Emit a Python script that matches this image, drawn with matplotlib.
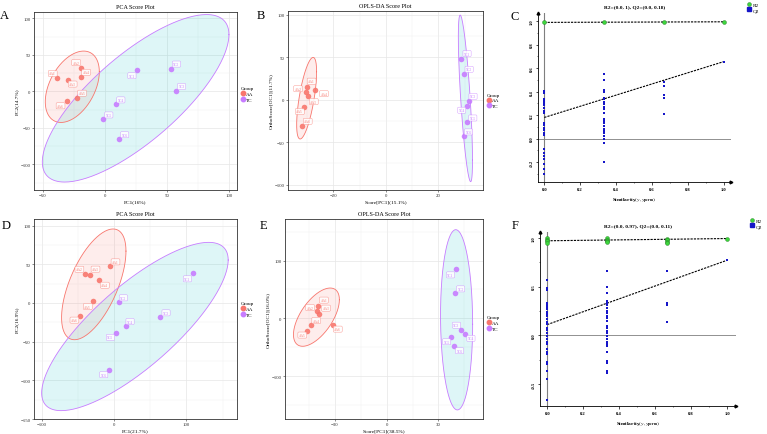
import numpy as np
import matplotlib.pyplot as plt
from matplotlib.ticker import MultipleLocator, FormatStrFormatter
from matplotlib.lines import Line2D

plt.rcParams['font.family'] = ['Liberation Serif', 'DejaVu Serif']
plt.rcParams['mathtext.fontset'] = 'stix'

W, H = 767, 435
AA_COL = '#F8766D'
TC_COL = '#C77CFF'
AA_FILL = '#F8766D'
TC_FILL = '#00BFC4'

# ---------------- data ----------------
# A: PCA (first comparison)
a_aa_x = [-38.6, -19.7, -29.7, -19.7, -23.0, -30.5]
a_aa_y = [18.3, 31.7, 16.0, 20.0, -8.7, -13.8]
a_tc_x = [26.2, 53.2, 57.3, 9.2, -1.4, 11.4]
a_tc_y = [28.9, 31.2, 0.5, -17.9, -38.5, -65.6]
# confidence ellipses: centre x, centre y, half width, half height, correlation
a_ell_aa = (-26.4, 6.2, 21.8, 48.9, 0.42)
a_ell_tc = (24.7, -9.6, 75.3, 114.7, 0.76)

# B: OPLS-DA (first comparison)
b_aa_x = [-30.0, -30.5, -29.6, -27.0, -31.1, -31.9]
b_aa_y = [15.3, 9.0, 4.3, 11.0, -8.6, -30.6]
b_tc_x = [28.8, 29.6, 31.5, 31.0, 31.0, 29.8]
b_tc_y = [47.8, 30.6, -1.2, -7.1, -26.7, -43.1]
b_ell_aa = (-30.2, 1.8, 3.8, 48.0, 0.65)
b_ell_tc = (30.3, 1.6, 2.7, 98.0, -0.74)

# D: PCA (second comparison)
d_aa_x = [-6.0, -40.6, -33.7, -20.8, -29.0, -47.5]
d_aa_y = [47.4, 37.9, 36.6, 30.2, 2.6, -16.4]
d_tc_x = [109.0, 6.5, 64.0, 15.7, 2.3, -6.9]
d_tc_y = [38.4, 0.9, -18.5, -29.7, -38.8, -87.0]
d_ell_aa = (-28.4, 24.1, 44.6, 71.6, 0.60)
d_ell_tc = (28.6, -30.4, 129.2, 108.8, 0.79)

# E: OPLS-DA (second comparison)
e_aa_x = [-39.6, -40.5, -39.0, -44.0, -46.3, -30.9]
e_aa_y = [21.9, 12.7, 8.0, -11.5, -21.3, -11.0]
e_tc_x = [40.2, 39.6, 43.0, 45.6, 37.3, 39.0]
e_tc_y = [84.7, 43.2, -19.6, -27.0, -32.9, -48.4]
e_ell_aa = (-40.7, 2.0, 13.3, 50.4, 0.60)
e_ell_tc = (40.5, -2.6, 9.3, 155.9, -0.05)

aa_names = ['AA1', 'AA2', 'AA3', 'AA4', 'AA5', 'AA6']
tc_names = ['TC1', 'TC2', 'TC3', 'TC4', 'TC5', 'TC6']

# C: permutation test (first comparison)
c_title = 'R2=(0.0, 1), Q2=(0.0, 0.18)'
c_sim = [0.0, 1 / 3, 2 / 3, 1.0]
c_r2 = [[0.99], [0.99], [0.99], [0.995]]
c_q2 = [
    [0.406, 0.386, 0.335, 0.321, 0.307, 0.284, 0.264, 0.236, 0.216, 0.136, 0.114,
     0.094, 0.074, 0.051, 0.028, -0.091, -0.119, -0.148, -0.176, -0.219, -0.261, -0.304],
    [0.548, 0.5, 0.415, 0.398, 0.349, 0.335, 0.313, 0.293, 0.273, 0.25, 0.216,
     0.165, 0.151, 0.131, 0.108, 0.085, 0.065, 0.045, 0.023, -0.006, -0.034, -0.199],
    [0.486, 0.449, 0.372, 0.349, 0.207],
    [0.656],
]
c_r2_line = [0.99, 0.995]
c_q2_line = [0.18, 0.656]

# F: permutation test (second comparison)
f_title = 'R2=(0.0, 0.97), Q2=(0.0, 0.11)'
f_sim = [0.0, 1 / 3, 2 / 3, 1.0]
f_r2 = [[1.0, 0.983, 0.966, 0.952], [1.0, 0.983, 0.97, 0.96],
        [0.993, 0.976, 0.96, 0.945], [0.993]]
f_q2 = [
    [0.564, 0.485, 0.467, 0.333, 0.313, 0.289, 0.265, 0.244, 0.22, 0.196, 0.168, 0.141,
     0.117, 0.072, 0.058, 0.024, -0.003, -0.038, -0.065, -0.089, -0.141, -0.168, -0.192,
     -0.271, -0.296, -0.364, -0.443, -0.663],
    [0.66, 0.491, 0.436, 0.357, 0.333, 0.306, 0.278, 0.254, 0.23, 0.203, 0.175, 0.151,
     0.1, 0.072, 0.045, 0.021, -0.01, -0.038, -0.065, -0.089, -0.107, -0.175, -0.261,
     -0.285, -0.364, -0.388],
    [0.66, 0.333, 0.306, 0.141],
    [0.77],
]
f_r2_line = [0.97, 0.993]
f_q2_line = [0.11, 0.77]

# label offsets (px) for the boxed sample names
a_off_aa = [(-4, 4), (-4, 5), (4, -4), (5, 4), (5, 4), (-6, -4)]
a_off_tc = [(-5, -5), (5, 4), (5, 4), (4, 4), (5, 4), (5, 4)]
b_off_aa = [(4, 5), (-7, 3), (5, -5), (8, -3), (-4, -4), (5, 4)]
b_off_tc = [(5, 5), (5, 4), (4, 4), (-5, -4), (5, 4), (4, 4)]
d_off_aa = [(5, 4), (-5, 4), (5, 5), (5, -5), (-5, -5), (-5, -4)]
d_off_tc = [(-5, -5), (4, 4), (5, 4), (4, 4), (-5, -4), (-5, -4)]
e_off_aa = [(5, 5), (-6, 3), (6, 5), (5, 4), (-4, -4), (4, -4)]
e_off_tc = [(-5, -5), (5, 4), (-4, 4), (5, -4), (-4, -4), (5, -4)]


def rect(l, t, r, b):
    return [l / W, 1 - b / H, (r - l) / W, (b - t) / H]


def ellipse(ax, p, fill, edge):
    mx, my, hx, hy, rho = p
    t = np.linspace(0, 2 * np.pi, 300)
    x = mx + hx * np.cos(t)
    y = my + hy * (rho * np.cos(t) + np.sqrt(1 - rho ** 2) * np.sin(t))
    ax.fill(x, y, color=fill, alpha=0.13, lw=0, zorder=2)
    ax.plot(x, y, color=edge, lw=0.6, zorder=3)


def score_panel(r, title, xlab, ylab, xlim, ylim, xstep, ystep,
                aa, tc, ell_aa, ell_tc, off_aa, off_tc, leg_y):
    ax = fig.add_axes(rect(*r))
    ax.set_xlim(xlim)
    ax.set_ylim(ylim)
    ax.xaxis.set_major_locator(MultipleLocator(xstep))
    ax.xaxis.set_minor_locator(MultipleLocator(xstep / 2))
    ax.yaxis.set_major_locator(MultipleLocator(ystep))
    ax.yaxis.set_minor_locator(MultipleLocator(ystep / 2))
    ax.grid(which='major', color='#E6E6E6', lw=0.5)
    ax.grid(which='minor', color='#F0F0F0', lw=0.3)
    ax.set_axisbelow(True)
    for s in ax.spines.values():
        s.set_color('#333333')
        s.set_linewidth(0.6)
    ax.tick_params(which='major', length=1.5, width=0.4, labelsize=3.5,
                   colors='#333333', pad=1)
    ax.tick_params(which='minor', length=0)
    ellipse(ax, ell_aa, AA_FILL, AA_COL)
    ellipse(ax, ell_tc, TC_FILL, TC_COL)
    ax.scatter(aa[0], aa[1], s=16, color=AA_COL, alpha=0.9, lw=0, zorder=4)
    ax.scatter(tc[0], tc[1], s=16, color=TC_COL, alpha=0.9, lw=0, zorder=4)
    for pts, names, offs, col in [(aa, aa_names, off_aa, AA_COL),
                                  (tc, tc_names, off_tc, TC_COL)]:
        for x, y, n, (dx, dy) in zip(pts[0], pts[1], names, offs):
            ax.annotate(n, (x, y), xytext=(dx * 0.8, dy * 0.8),
                        textcoords='offset points', fontsize=2.5, color=col,
                        ha='center', va='center', zorder=5,
                        bbox=dict(boxstyle='round,pad=0.3', fc='white',
                                  ec=col, lw=0.3, alpha=0.85))
    ax.set_title(title, fontsize=4.4, pad=3)
    ax.set_xlabel(xlab, fontsize=3.9, labelpad=1)
    ax.set_ylabel(ylab, fontsize=3.9, labelpad=1)
    hs = [Line2D([], [], ls='', marker='o', ms=3.2, color=AA_COL),
          Line2D([], [], ls='', marker='o', ms=3.2, color=TC_COL)]
    ax.legend(hs, ['AA', 'TC'], title='Group', loc='center left',
              bbox_to_anchor=(1.0, leg_y), frameon=False, fontsize=3.7,
              title_fontsize=3.7, handletextpad=0.1, handlelength=1.0,
              labelspacing=0.2, borderpad=0.2)
    return ax


def perm_panel(r, title, xlim, ylim, ystep, sim, r2, q2, r2_line, q2_line, leg_xy):
    ax = fig.add_axes(rect(*r))
    ax.set_xlim(xlim)
    ax.set_ylim(ylim)
    ax.spines['top'].set_visible(False)
    ax.spines['right'].set_visible(False)
    for s in ['left', 'bottom']:
        ax.spines[s].set_linewidth(0.6)
    ax.xaxis.set_major_locator(MultipleLocator(0.2))
    ax.xaxis.set_minor_locator(MultipleLocator(0.1))
    ax.yaxis.set_major_locator(MultipleLocator(ystep))
    ax.yaxis.set_minor_locator(MultipleLocator(ystep / 2))
    ax.xaxis.set_major_formatter(FormatStrFormatter('%.1f'))
    ax.yaxis.set_major_formatter(FormatStrFormatter('%.1f'))
    ax.tick_params(which='major', length=1.8, width=0.5, labelsize=3.3, pad=1.5)
    ax.tick_params(which='minor', length=1.0, width=0.4)
    ax.tick_params(axis='y', labelrotation=90)
    for lab in ax.get_yticklabels():
        lab.set_va('center')
    for lab in ax.get_xticklabels() + ax.get_yticklabels():
        lab.set_fontweight('bold')
    ax.axhline(0, color='#7F7F7F', lw=0.6, zorder=1)
    ax.axvline(0, color='#7F7F7F', lw=0.8, zorder=1)
    ax.plot([0, 1], r2_line, color='black', lw=0.8, dashes=(2, 1), zorder=2)
    ax.plot([0, 1], q2_line, color='black', lw=0.8, dashes=(2, 1), zorder=2)
    for x, vals in zip(sim, q2):
        ax.scatter([x] * len(vals), vals, s=4.5, marker='s', color='#1515C8',
                   lw=0, zorder=3)
    for x, vals in zip(sim, r2):
        ax.scatter([x] * len(vals), vals, s=8, marker='o', color='#3DD63D',
                   edgecolor='#1F7A1F', lw=0.3, zorder=4)
    ax.plot(1, 0, '>', color='black', ms=2, transform=ax.transAxes, clip_on=False)
    ax.plot(0, 1, '^', color='black', ms=2, transform=ax.transAxes, clip_on=False)
    ax.set_title(title, fontsize=3.9, fontweight='bold', pad=4)
    ax.set_xlabel(r'Similarity$(y, y_{\mathbf{perm}})$', fontsize=3.9,
                  fontweight='bold', labelpad=3)
    hs = [Line2D([], [], ls='', marker='o', ms=2.8, color='#3DD63D',
                 markeredgecolor='#1F7A1F', markeredgewidth=0.3),
          Line2D([], [], ls='', marker='s', ms=2.2, color='#1515C8')]
    fig.legend(hs, ['R2', 'Q2'], loc='upper left',
               bbox_to_anchor=(leg_xy[0] / W, 1 - leg_xy[1] / H), frameon=False,
               fontsize=3.8, handletextpad=0.3, handlelength=0.8,
               labelspacing=0.1, borderpad=0.1)
    return ax


fig = plt.figure(figsize=(W / 100, H / 100), dpi=100)

score_panel((34, 13, 237, 191), 'PCA Score Plot', 'PC1(16%)', 'PC2(14.7%)',
            (-57.3, 106.5), (-135.2, 108.6), 50, 50,
            (a_aa_x, a_aa_y), (a_tc_x, a_tc_y), a_ell_aa, a_ell_tc,
            a_off_aa, a_off_tc, 0.54)
score_panel((288, 12, 483, 191), 'OPLS-DA Score Plot', 'Score[PC1](15.1%)',
            'OrthoScore[OC1](11.7%)', (-37.3, 37.0), (-106.2, 104.4), 20, 50,
            (b_aa_x, b_aa_y), (b_tc_x, b_tc_y), b_ell_aa, b_ell_tc,
            b_off_aa, b_off_tc, 0.5)
score_panel((34, 220, 237, 420), 'PCA Score Plot', 'PC1(21.7%)', 'PC2(16.9%)',
            (-111.2, 170.0), (-150.0, 108.6), 100, 50,
            (d_aa_x, d_aa_y), (d_tc_x, d_tc_y), d_ell_aa, d_ell_tc,
            d_off_aa, d_off_tc, 0.55)
score_panel((285, 220, 483, 420), 'OPLS-DA Score Plot', 'Score[PC1](38.5%)',
            'OrthoScore[OC1](16.0%)', (-58.9, 55.8), (-174.2, 171.8), 30, 100,
            (e_aa_x, e_aa_y), (e_tc_x, e_tc_y), e_ell_aa, e_ell_tc,
            e_off_aa, e_off_tc, 0.48)

perm_panel((538, 14, 731, 183), c_title, (-0.035, 1.04), (-0.37, 1.07), 0.2,
           c_sim, c_r2, c_q2, c_r2_line, c_q2_line, (744, 0))
perm_panel((540, 233, 736, 407), f_title, (-0.04, 1.05), (-0.725, 1.06), 0.5,
           f_sim, f_r2, f_q2, f_r2_line, f_q2_line, (747, 216))

for letter, x, y in [('A', 0, 16), ('B', 257, 16), ('C', 510, 17),
                     ('D', 2, 226), ('E', 260, 226), ('F', 512, 226)]:
    fig.text(x / W, 1 - y / H, letter, fontsize=9, ha='left', va='center')

fig.savefig('out.png', dpi=100)
